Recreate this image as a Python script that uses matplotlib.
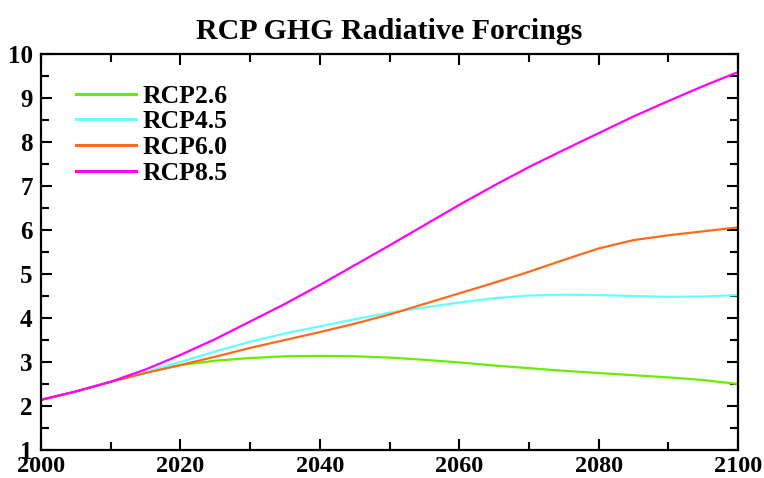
import matplotlib
matplotlib.use('Agg')
import matplotlib.pyplot as plt
from matplotlib.ticker import MultipleLocator

years = list(range(2000, 2101, 5))
rcp26 = [2.14, 2.33, 2.55, 2.76, 2.93, 3.03, 3.09, 3.13, 3.14, 3.13, 3.10,
         3.05, 2.99, 2.92, 2.86, 2.80, 2.75, 2.70, 2.65, 2.59, 2.50]
rcp45 = [2.14, 2.33, 2.55, 2.77, 3.00, 3.24, 3.46, 3.65, 3.81, 3.97, 4.12,
         4.24, 4.35, 4.45, 4.51, 4.53, 4.52, 4.50, 4.48, 4.49, 4.52]
rcp60 = [2.14, 2.33, 2.55, 2.75, 2.93, 3.12, 3.32, 3.50, 3.68, 3.87, 4.08,
         4.32, 4.56, 4.80, 5.05, 5.32, 5.58, 5.77, 5.88, 5.97, 6.06]
rcp85 = [2.14, 2.33, 2.55, 2.83, 3.16, 3.52, 3.92, 4.32, 4.75, 5.20, 5.65,
         6.11, 6.57, 7.01, 7.43, 7.82, 8.20, 8.58, 8.93, 9.27, 9.59]

labels = ['RCP2.6', 'RCP4.5', 'RCP6.0', 'RCP8.5']
colors = ['#66ee00', '#66ffff', '#ff6a1a', '#ff00ff']

plt.rcParams['font.family'] = ['Liberation Serif', 'DejaVu Serif']
plt.rcParams['font.weight'] = 'bold'

fig = plt.figure(figsize=(7.64, 4.78), dpi=100)
ax = fig.add_axes([0.0537, 0.0586, 0.9123, 0.8284])

for series, lab, col in zip([rcp26, rcp45, rcp60, rcp85], labels, colors):
    ax.plot(years, series, color=col, lw=1.6, label=lab)

ax.set_xlim(2000, 2100)
ax.set_ylim(1, 10)
ax.xaxis.set_major_locator(MultipleLocator(20))
ax.xaxis.set_minor_locator(MultipleLocator(10))
ax.yaxis.set_major_locator(MultipleLocator(1))
ax.yaxis.set_minor_locator(MultipleLocator(0.5))
ax.tick_params(which='both', direction='in', top=True, right=True, width=1.5)
ax.tick_params(which='major', length=8)
ax.tick_params(which='minor', length=6)
ax.tick_params(axis='x', pad=4, labelsize=17.5)
ax.tick_params(axis='y', pad=6, labelsize=18)
for lab in ax.get_xticklabels() + ax.get_yticklabels():
    lab.set_fontweight('bold')
for sp in ax.spines.values():
    sp.set_linewidth(1.6)

ax.set_title('RCP GHG Radiative Forcings', fontsize=21.5, fontweight='bold', pad=11)

leg = ax.legend(loc='upper left', frameon=False, fontsize=18.5, handlelength=2.33,
                handletextpad=0.27, labelspacing=0.1, borderaxespad=0,
                borderpad=0, bbox_to_anchor=(0.05, 0.922))
for t in leg.get_texts():
    t.set_fontweight('bold')
for h in leg.get_lines():
    h.set_linewidth(2.2)

fig.savefig('out.png', dpi=100)
